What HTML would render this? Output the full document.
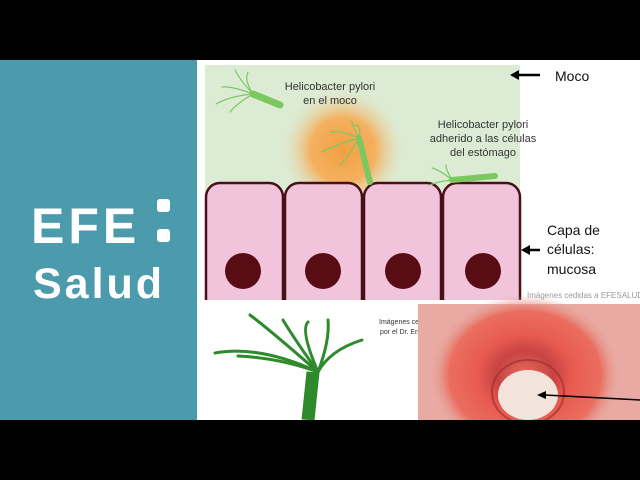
<!DOCTYPE html>
<html><head><meta charset="utf-8"><style>
html,body{margin:0;padding:0;width:640px;height:480px;overflow:hidden;background:#000}
svg{display:block}
</style></head><body>
<svg width="640" height="480" viewBox="0 0 640 480" font-family="Liberation Sans, sans-serif">
<defs>
<radialGradient id="glow" cx="0.5" cy="0.5" r="0.5">
<stop offset="0" stop-color="#f2a040"/><stop offset="0.5" stop-color="#f4b060"/><stop offset="1" stop-color="#dcecd4" stop-opacity="0"/>
</radialGradient>
<radialGradient id="ring" cx="0.5" cy="0.5" r="0.5">
<stop offset="0" stop-color="#e86a5c"/><stop offset="0.3" stop-color="#c84444"/><stop offset="0.5" stop-color="#e85a50"/><stop offset="0.8" stop-color="#ea6e60"/><stop offset="1" stop-color="#e4a49c" stop-opacity="0"/>
</radialGradient>
<clipPath id="cc"><rect x="200" y="60" width="330" height="240"/></clipPath>
</defs>
<rect x="0" y="60" width="640" height="360" fill="#fff"/>
<rect x="0" y="60" width="197" height="360" fill="#4b9bac"/>
<text x="31" y="243" font-size="50" font-weight="bold" fill="#fff" letter-spacing="4">EFE</text>
<rect x="157" y="199" width="13" height="13" rx="3" fill="#fff"/>
<rect x="157" y="229" width="13" height="13" rx="3" fill="#fff"/>
<text x="33" y="298" font-size="43" font-weight="bold" fill="#fff" letter-spacing="3">Salud</text>
<rect x="205" y="65" width="315" height="235" fill="#dcecd4"/>
<circle cx="343" cy="150" r="65" fill="url(#glow)"/>
<g clip-path="url(#cc)">
<g fill="#f2c4dc" stroke="#4a1018" stroke-width="2.5">
<rect x="206" y="183" width="77" height="140" rx="14"/>
<rect x="285" y="183" width="77" height="140" rx="14"/>
<rect x="364" y="183" width="77" height="140" rx="14"/>
<rect x="443" y="183" width="77" height="140" rx="14"/>
</g></g>
<g fill="#5a0c14"><circle cx="243" cy="271" r="18"/><circle cx="323" cy="271" r="18"/><circle cx="403" cy="271" r="18"/><circle cx="483" cy="271" r="18"/></g>
<g stroke="#7cc860" stroke-linecap="round" fill="none">
<path d="M253 94 L280 105" stroke-width="7"/>
<path d="M359 138 L370 182" stroke-width="6"/>
<path d="M452 180 L495 176" stroke-width="6"/>
<g stroke-width="1.2">
<path d="M253 94 Q240 80 235 70"/><path d="M253 94 Q232 86 222 87"/><path d="M253 94 Q230 96 216 104"/><path d="M253 94 Q236 104 230 112"/><path d="M253 94 Q244 80 248 72"/>
<path d="M359 138 Q350 120 352 122"/><path d="M359 138 Q340 130 330 132"/><path d="M359 138 Q335 145 322 152"/><path d="M359 138 Q350 155 340 165"/><path d="M359 138 Q362 125 355 125"/>
<path d="M452 180 Q440 170 432 168"/><path d="M452 180 Q436 182 430 185"/><path d="M452 180 Q446 170 446 165"/>
</g></g>
<g font-size="11" fill="#333" text-anchor="middle">
<text x="330" y="90">Helicobacter pylori</text><text x="330" y="104">en el moco</text>
<text x="483" y="128">Helicobacter pylori</text><text x="483" y="142">adherido a las células</text><text x="483" y="156">del estómago</text>
</g>
<g stroke="#000" stroke-width="2.5"><line x1="540" y1="75" x2="516" y2="75"/><line x1="540" y1="250" x2="527" y2="250"/></g>
<path d="M510 75 L519 70 L519 80Z"/><path d="M521 250 L530 245 L530 255Z"/>
<g font-size="14" fill="#111"><text x="555" y="81">Moco</text>
<text x="547" y="235">Capa de</text><text x="547" y="254">células:</text><text x="547" y="274">mucosa</text></g>
<text x="527" y="298" font-size="8" fill="#999">Imágenes cedidas a EFESALUD</text>
<text x="379" y="324" font-size="7" fill="#333">Imágenes ced</text>
<text x="380" y="334" font-size="7" fill="#333">por el Dr. Enr</text>
<g stroke="#2e8a2a" stroke-linecap="round" fill="none" stroke-width="3">
<path d="M318 372 Q270 330 250 315"/>
<path d="M318 372 Q260 345 215 353"/>
<path d="M318 372 Q280 358 238 356"/>
<path d="M318 372 Q295 340 283 320"/>
<path d="M318 372 Q300 330 308 322"/>
<path d="M318 372 Q330 340 328 320"/>
<path d="M318 372 Q330 350 362 340"/>
</g>
<path d="M313 372 L308 420" stroke="#2e8a2a" stroke-width="13"/>
<rect x="418" y="304" width="222" height="116" fill="#e8aaa2"/>
<ellipse cx="525" cy="375" rx="95" ry="80" fill="url(#ring)"/>
<ellipse cx="528" cy="392" rx="36" ry="32" fill="none" stroke="#9a2a2a" stroke-width="2" opacity="0.6"/>
<ellipse cx="528" cy="395" rx="30" ry="25" fill="#f2e4da"/>
<line x1="545" y1="395" x2="640" y2="400" stroke="#000" stroke-width="1.5"/>
<path d="M537 395 L546 391 L546 399Z"/>
<rect x="0" y="420" width="640" height="60" fill="#000"/>
</svg>
</body></html>
